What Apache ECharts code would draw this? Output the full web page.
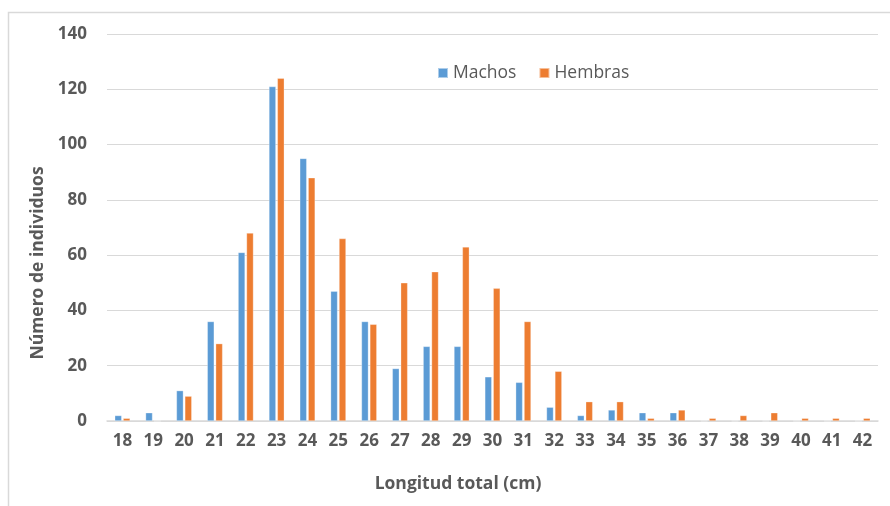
<!DOCTYPE html>
<html>
<head>
<meta charset="utf-8">
<script src="https://cdn.jsdelivr.net/npm/echarts@6/dist/echarts.min.js"></script>
<style>html,body{margin:0;padding:0;background:#fff}#c{width:890px;height:506px}</style>
</head>
<body>
<div id="c"></div>
<script>
const categories = ['18','19','20','21','22','23','24','25','26','27','28','29','30','31','32','33','34','35','36','37','38','39','40','41','42'];
const machos  = [2, 3, 11, 36, 61, 121, 95, 47, 36, 19, 27, 27, 16, 14, 5, 2, 4, 3, 3, 0, 0, 0, 0, 0, 0];
const hembras = [1, 0, 9, 28, 68, 124, 88, 66, 35, 50, 54, 63, 48, 36, 18, 7, 7, 1, 4, 1, 2, 3, 1, 1, 1];
const yTicks = { min: 0, max: 140, interval: 20 };
const xTitle = 'Longitud total (cm)';
const yTitle = 'Número de individuos';

const FONT = '"Open Sans", Lato, sans-serif';
const GRAY = '#595959';
const chart = echarts.init(document.getElementById('c'), null, { renderer: 'canvas' });
chart.setOption({
  animation: false,
  backgroundColor: '#ffffff',
  textStyle: { fontFamily: FONT },
  grid: { left: 107, right: 12, top: 34, bottom: 85, containLabel: false },
  legend: {
    data: ['Machos', 'Hembras'],
    left: 432, top: 59,
    itemWidth: 10, itemHeight: 10, itemGap: 22,
    icon: 'rect',
    textStyle: { color: GRAY, fontSize: 17.5, fontFamily: FONT }
  },
  graphic: [
    { type: 'rect', shape: { x: 8.5, y: 12.5, width: 900, height: 520 }, style: { fill: 'none', stroke: '#d9d9d9', lineWidth: 1.5 }, silent: true, z: -1 },
    { type: 'text', x: 38, y: 263, rotation: Math.PI / 2,
      style: { text: yTitle, fill: GRAY, font: 'bold 17.5px ' + FONT, textAlign: 'center', textVerticalAlign: 'middle' } },
    { type: 'text', x: 458, y: 484,
      style: { text: xTitle, fill: GRAY, font: 'bold 17.5px ' + FONT, textAlign: 'center', textVerticalAlign: 'middle' } }
  ],
  xAxis: {
    type: 'category',
    data: categories,
    axisLine: { lineStyle: { color: '#d9d9d9', width: 1.5 } },
    axisTick: { show: false },
    axisLabel: { color: GRAY, fontSize: 17, fontWeight: 'bold', margin: 12, interval: 0, fontFamily: FONT }
  },
  yAxis: {
    type: 'value',
    min: yTicks.min, max: yTicks.max, interval: yTicks.interval,
    axisLine: { show: false },
    axisTick: { show: false },
    axisLabel: { color: GRAY, fontSize: 17, fontWeight: 'bold', margin: 20, fontFamily: FONT },
    splitLine: { lineStyle: { color: '#d9d9d9', width: 1.2 } }
  },
  series: [
    { name: 'Machos', type: 'bar', data: machos, barWidth: 7, barGap: '20%',
      itemStyle: { color: '#5B9BD5', borderColor: 'rgba(255,255,255,0.5)', borderWidth: 0.6 } },
    { name: 'Hembras', type: 'bar', data: hembras, barWidth: 7, barGap: '20%',
      itemStyle: { color: '#ED7D31', borderColor: 'rgba(255,255,255,0.5)', borderWidth: 0.6 } }
  ]
});
</script>
</body>
</html>
